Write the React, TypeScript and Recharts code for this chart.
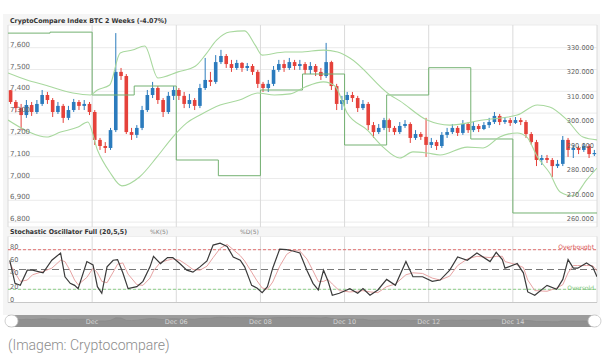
import React from 'react';
import { ComposedChart, Bar, Line, Area, XAxis, YAxis, CartesianGrid, ReferenceLine } from 'recharts';

// ---------- data ----------
const dayTicks = [48, 96, 144, 192, 240, 288];
const dayLabels = ['Dec', 'Dec 06', 'Dec 08', 'Dec 10', 'Dec 12', 'Dec 14'];
const leftTicks = [6800, 6900, 7000, 7100, 7200, 7300, 7400, 7500, 7600];
const rightTicks = [260000, 270000, 280000, 290000, 300000, 310000, 320000, 330000];
const stochTicks = [0, 20, 40, 60, 80];

const firstOpen = 7405;
const closes = [
  7351, 7323, 7291, 7337, 7305, 7342, 7383, 7360, 7305, 7333,
  7278, 7314, 7351, 7333, 7342, 7305, 7177, 7149, 7140, 7222,
  7489, 7470, 7213, 7200, 7232, 7314, 7383, 7415, 7360, 7305,
  7379, 7406, 7379, 7342, 7360, 7333, 7415, 7452, 7443, 7534,
  7562, 7525, 7507, 7530, 7507, 7516, 7489, 7434, 7415, 7434,
  7498, 7525, 7507, 7534, 7516, 7525, 7498, 7516, 7489, 7470,
  7534, 7424, 7342, 7360, 7383, 7369, 7323, 7342, 7245, 7213,
  7232, 7268, 7232, 7213, 7241, 7250, 7186, 7204, 7191, 7154,
  7167, 7149, 7200, 7213, 7232, 7209, 7250, 7222, 7241, 7227,
  7245, 7259, 7287, 7259, 7268, 7255, 7268, 7259, 7204, 7167,
  7085, 7094, 7085, 7057, 7067, 7177, 7131, 7140, 7131, 7149, 7112, 7117,
];
const highs = [
  7406, 7360, 7342, 7360, 7351, 7360, 7406, 7397, 7369, 7351,
  7342, 7333, 7365, 7360, 7360, 7351, 7314, 7186, 7167, 7232,
  7667, 7507, 7479, 7232, 7245, 7333, 7406, 7443, 7424, 7369,
  7397, 7424, 7415, 7397, 7388, 7369, 7434, 7553, 7489, 7566,
  7590, 7571, 7544, 7544, 7534, 7530, 7525, 7498, 7443, 7452,
  7516, 7544, 7544, 7553, 7544, 7544, 7534, 7534, 7525, 7507,
  7622, 7540, 7434, 7379, 7397, 7397, 7379, 7360, 7351, 7259,
  7250, 7278, 7275, 7241, 7259, 7268, 7258, 7222, 7213, 7278,
  7186, 7177, 7213, 7232, 7250, 7241, 7268, 7259, 7259, 7250,
  7259, 7278, 7305, 7296, 7282, 7278, 7282, 7278, 7268, 7213,
  7177, 7108, 7108, 7094, 7085, 7195, 7186, 7154, 7149, 7163, 7158, 7131,
];
const lows = [
  7342, 7305, 7222, 7278, 7287, 7296, 7333, 7342, 7282, 7296,
  7255, 7268, 7305, 7314, 7314, 7291, 7154, 7131, 7117, 7131,
  7213, 7452, 7204, 7177, 7186, 7222, 7305, 7369, 7342, 7282,
  7296, 7360, 7360, 7323, 7323, 7314, 7323, 7406, 7424, 7434,
  7525, 7507, 7489, 7498, 7489, 7493, 7475, 7415, 7397, 7397,
  7424, 7489, 7489, 7498, 7498, 7498, 7479, 7479, 7470, 7452,
  7461, 7406, 7314, 7314, 7342, 7351, 7305, 7314, 7222, 7186,
  7204, 7222, 7213, 7200, 7204, 7232, 7163, 7177, 7177, 7099,
  7140, 7131, 7140, 7186, 7204, 7195, 7200, 7209, 7213, 7213,
  7222, 7232, 7250, 7245, 7250, 7241, 7250, 7245, 7186, 7154,
  7057, 7062, 7071, 7007, 7048, 7057, 7099, 7094, 7112, 7122, 7094, 7103,
];
const candleStepHours = 3;

const upperHours = [0, 10.8, 21, 37, 47, 51, 58, 64, 71, 78, 85.5, 97, 107, 112.5, 119, 126.5, 135, 141, 145, 158, 166.5, 180, 188, 195, 218, 223.5, 239, 252, 271, 290.5, 302, 309, 319, 328, 336];
const upperValues = [7484, 7452, 7429, 7392, 7383, 7406, 7429, 7576, 7589, 7608, 7461, 7489, 7516, 7566, 7635, 7672, 7677, 7612, 7566, 7580, 7580, 7589, 7580, 7553, 7383, 7356, 7268, 7245, 7268, 7291, 7337, 7328, 7268, 7190, 7177];
const lowerHours = [0, 10.8, 22, 30, 40, 45.5, 51, 58, 65, 75, 85, 94, 102, 109.5, 121, 132, 142.5, 152, 161, 169.5, 180, 186.5, 193.5, 205, 214, 223.5, 231, 239, 246.5, 262, 271, 280.5, 290.5, 296, 302, 309, 315, 322.5, 330, 336];
const lowerValues = [7268, 7218, 7190, 7213, 7236, 7259, 7131, 7030, 6966, 7007, 7099, 7190, 7255, 7291, 7337, 7360, 7392, 7383, 7388, 7420, 7443, 7424, 7300, 7222, 7144, 7094, 7122, 7117, 7108, 7144, 7140, 7190, 7209, 7190, 7099, 7025, 6938, 6920, 6993, 7048];

const stepHours = [0, 24, 48, 72, 96, 120, 144, 168, 192, 216, 240, 264, 288, 312, 336];
const stepValues = [337200, 337600, 311870, 315550, 285260, 278830, 313910, 320460, 291400, 311870, 323040, 293860, 263570, 263570, 263570];

const stochHours = [1, 4, 7, 11, 14, 20, 25, 30, 32.5, 35.5, 38, 40, 45, 48.5, 51, 53.5, 56.5, 60, 62.5, 65.5, 68.5, 73.5, 77, 81, 83, 87, 91, 94, 98, 102, 105.5, 109.5, 113.5, 117, 121, 125, 128.5, 132.5, 135, 139, 142, 145, 148, 151, 155, 159, 162.5, 166.5, 170.5, 174, 177, 180, 182.5, 185, 189, 195, 199.5, 202.5, 206.5, 211, 216, 221, 227, 231, 236.5, 242, 246.5, 252, 256.5, 262, 267.5, 275, 278.5, 282, 283.5, 290.5, 294, 296.5, 300.5, 307.5, 313, 316.5, 319.5, 322.5, 325, 330, 333.5, 336];
const kValues = [64, 29, 26, 49, 49, 45, 64, 75, 39, 29, 26, 21, 62, 57, 24, 14, 54, 64, 65, 45, 21, 24, 32, 54, 70, 59, 68, 68, 59, 49, 46, 54, 63, 87, 90, 85, 69, 64, 54, 26, 22, 15, 24, 52, 81, 80, 78, 75, 49, 29, 19, 49, 33, 11, 14, 21, 14, 21, 11, 19, 35, 26, 62, 39, 39, 32, 34, 49, 69, 64, 75, 62, 76, 65, 52, 59, 45, 16, 11, 26, 20, 35, 65, 52, 52, 60, 54, 39];
const dValues = [60, 45, 32, 34, 42, 47, 52, 64, 62, 48, 34, 27, 38, 52, 45, 32, 30, 46, 58, 60, 43, 27, 26, 37, 48, 61, 64, 66, 64, 57, 50, 49, 55, 68, 82, 88, 80, 71, 63, 46, 33, 22, 20, 31, 55, 73, 79, 78, 66, 48, 32, 32, 35, 28, 18, 16, 17, 18, 16, 15, 24, 28, 42, 45, 44, 37, 34, 40, 56, 66, 70, 68, 70, 70, 62, 57, 53, 34, 18, 17, 22, 27, 45, 56, 56, 56, 56, 48];

// ---------- tables ----------
const candles = closes.map((c, i) => ({
  t: i * candleStepHours + candleStepHours / 2,
  open: i === 0 ? firstOpen : closes[i - 1],
  close: c,
  high: highs[i],
  low: lows[i],
  range: [lows[i], highs[i]],
}));
const upperData = upperHours.map((t, i) => ({ t, upper: upperValues[i] }));
const lowerData = lowerHours.map((t, i) => ({ t, lower: lowerValues[i] }));
const stepData = stepHours.map((t, i) => ({ t, step: stepValues[i] }));
const stochData = stochHours.map((t, i) => ({ t, k: kValues[i], d: dValues[i] }));

// ---------- styles ----------
const FONT = 'DejaVu Sans, Verdana, sans-serif';
const BLUE = '#2b7bbd';
const RED = '#e5423b';
const BAND = '#a8d89e';
const STEP = '#74b172';
const W = 606;
const BODY_W = 3.6;

const commaFmt = (v: number) => String(v).replace(/\B(?=(\d{3})+(?!\d))/g, ',');
const dotFmt = (v: number) => String(v).replace(/\B(?=(\d{3})+(?!\d))/g, '.');

const LeftTick = (p: any) => (
  <text x={10} y={p.y - 3.4} dy="0.35em" fontSize={7} fill="#666" fontFamily={FONT}>
    {commaFmt(p.payload.value)}
  </text>
);
const RightTick = (p: any) => (
  <text x={594} y={p.y - 3} dy="0.35em" fontSize={6.6} fill="#666" fontFamily={FONT} textAnchor="end">
    {dotFmt(p.payload.value)}
  </text>
);
const StochTick = (p: any) => (
  <text x={10} y={p.y - 3} dy="0.35em" fontSize={6.6} fill="#666" fontFamily={FONT}>
    {p.payload.value}
  </text>
);
const NavTick = (p: any) => (
  <text x={p.x} y={6.5} dy="0.35em" fontSize={6.5} fill="#d6d6d6" fontFamily={FONT} textAnchor="middle">
    {dayLabels[dayTicks.indexOf(p.payload.value)]}
  </text>
);

const Candle = (props: any) => {
  const { x, y, width, height, payload } = props;
  if (x == null || y == null || !payload) return null;
  const top = Math.min(y, y + height);
  const h = Math.abs(height);
  const { open, close, high, low } = payload;
  const span = high - low || 1;
  const py = (v: number) => top + ((high - v) / span) * h;
  const color = close >= open ? BLUE : RED;
  const cx = x + width / 2;
  const yo = py(open);
  const yc = py(close);
  const bt = Math.min(yo, yc);
  const bh = Math.max(1.2, Math.abs(yc - yo));
  return (
    <g>
      <line x1={cx} x2={cx} y1={top} y2={top + h} stroke={color} strokeWidth={1} />
      <rect x={cx - BODY_W / 2} y={bt} width={BODY_W} height={bh} fill={color} />
    </g>
  );
};

export default function App() {
  return (
    <div style={{ position: 'absolute', left: 0, top: 0, width: W, height: 360, background: '#fff', overflow: 'hidden' }}>
      {/* frame backgrounds */}
      <div style={{ position: 'absolute', left: 3, top: 14, width: 597, height: 301, background: '#f5f5f5' }} />
      <div style={{ position: 'absolute', left: 8, top: 25, width: 589, height: 202, background: '#fff' }} />
      <div style={{ position: 'absolute', left: 8, top: 236.5, width: 589, height: 66, background: '#fff' }} />
      <div style={{ position: 'absolute', left: 8, top: 315, width: 589, height: 12, background: '#9c9c9c' }} />

      {/* main price panel */}
      <div style={{ position: 'absolute', left: 0, top: 0 }}>
        <ComposedChart width={W} height={240} data={candles} margin={{ top: 25, right: 8, bottom: 13, left: 7 }}>
          <XAxis dataKey="t" type="number" domain={[0, 336]} ticks={dayTicks} hide allowDataOverflow />
          <YAxis yAxisId="left" orientation="left" width={1} domain={[6777.5, 7704.1]} ticks={leftTicks}
            axisLine={false} tickLine={false} tick={LeftTick} interval={0} allowDataOverflow />
          <YAxis yAxisId="right" orientation="right" width={1} domain={[257835, 340520]} ticks={rightTicks}
            axisLine={false} tickLine={false} tick={RightTick} interval={0} allowDataOverflow />
          <CartesianGrid yAxisId="left" vertical={false} stroke="#ebebeb" />
          <CartesianGrid yAxisId="left" horizontal={false} stroke="#dadada" />
          <Line yAxisId="right" data={stepData} dataKey="step" type="stepAfter" stroke={STEP} strokeWidth={1} dot={false} isAnimationActive={false} />
          <Line yAxisId="left" data={upperData} dataKey="upper" type="monotone" stroke={BAND} strokeWidth={1.1} dot={false} isAnimationActive={false} />
          <Line yAxisId="left" data={lowerData} dataKey="lower" type="monotone" stroke={BAND} strokeWidth={1.1} dot={false} isAnimationActive={false} />
          <Bar yAxisId="left" dataKey="range" barSize={4} shape={Candle} isAnimationActive={false} />
        </ComposedChart>
      </div>

      {/* stochastic panel */}
      <div style={{ position: 'absolute', left: 0, top: 220 }}>
        <ComposedChart width={W} height={100} data={stochData} margin={{ top: 16.5, right: 9, bottom: 17.5, left: 7 }}>
          <XAxis dataKey="t" type="number" domain={[0, 336]} ticks={dayTicks} hide allowDataOverflow />
          <YAxis yAxisId="s" width={1} domain={[0, 100]} ticks={stochTicks} axisLine={false} tickLine={false} tick={StochTick} interval={0} />
          <CartesianGrid yAxisId="s" vertical={false} stroke="#eeeeee" />
          <CartesianGrid yAxisId="s" horizontal={false} stroke="#dadada" />
          <ReferenceLine yAxisId="s" y={0} stroke="#c8c8c8" />
          <ReferenceLine yAxisId="s" y={80} stroke="#e07070" strokeDasharray="3 2" />
          <ReferenceLine yAxisId="s" y={50} stroke="#777" strokeDasharray="7 4" />
          <ReferenceLine yAxisId="s" y={20} stroke="#8fd08a" strokeDasharray="3 2" />
          <Line yAxisId="s" dataKey="d" type="linear" stroke="#e7a3a3" strokeWidth={1} dot={false} isAnimationActive={false} />
          <Line yAxisId="s" dataKey="k" type="linear" stroke="#3a3a3a" strokeWidth={1.2} dot={false} isAnimationActive={false} />
        </ComposedChart>
      </div>

      {/* navigator */}
      <div style={{ position: 'absolute', left: 0, top: 315 }}>
        <ComposedChart width={W} height={13} data={candles} margin={{ top: 0, right: 9, bottom: 0, left: 8 }}>
          <XAxis dataKey="t" type="number" domain={[0, 336]} ticks={dayTicks} height={1} axisLine={false} tickLine={false} tick={NavTick} interval={0} />
          <YAxis yAxisId="n" hide domain={[6500, 7800]} />
          <Area yAxisId="n" dataKey="close" type="linear" stroke="#8a8a8a" strokeWidth={0.8} fill="#8f8f8f" fillOpacity={0.9} isAnimationActive={false} />
        </ComposedChart>
      </div>

      {/* texts and decorations */}
      <svg width={W} height={360} style={{ position: 'absolute', left: 0, top: 0, pointerEvents: 'none' }}>
        <text x={10} y={23} fontSize={6.6} fontWeight="bold" fill="#333" fontFamily={FONT} textLength={157} lengthAdjust="spacingAndGlyphs">
          CryptoCompare Index BTC 2 Weeks (-4.07%)
        </text>
        <text x={10} y={234} fontSize={6.6} fontWeight="bold" fill="#333" fontFamily={FONT} textLength={117} lengthAdjust="spacingAndGlyphs">
          Stochastic Oscillator Full (20,5,5)
        </text>
        <text x={150} y={234} fontSize={6} fill="#888" fontFamily={FONT}>%K(5)</text>
        <text x={240} y={234} fontSize={6} fill="#888" fontFamily={FONT}>%D(5)</text>
        <text x={594} y={248.5} fontSize={6} fill="#d9534f" fontFamily={FONT} textAnchor="end">Overbought</text>
        <text x={594} y={289.5} fontSize={6} fill="#7cc576" fontFamily={FONT} textAnchor="end">Oversold</text>
        <rect x={5} y={315} width={13} height={12} rx={6} fill="#fff" stroke="#c4c4c4" strokeWidth={0.8} />
        <rect x={588} y={315} width={13} height={12} rx={6} fill="#fff" stroke="#c4c4c4" strokeWidth={0.8} />
      </svg>

      <div style={{ position: 'absolute', left: 8, top: 337, fontFamily: 'Roboto, sans-serif', fontWeight: 300, fontSize: 14, lineHeight: '16px', color: '#8c8c8c', whiteSpace: 'nowrap' }}>
        (Imagem: Cryptocompare)
      </div>
    </div>
  );
}
